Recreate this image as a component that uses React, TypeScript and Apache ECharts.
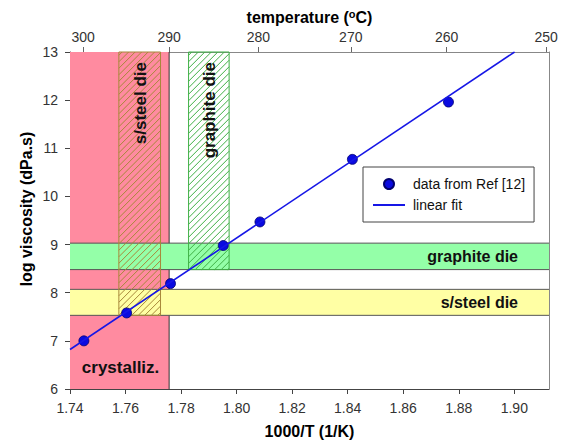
import React, { useEffect, useRef } from "react";
import * as echarts from "echarts";

const FONT = "'Liberation Sans', Arial, sans-serif";

// axis ticks
const xTicks = [1.74, 1.76, 1.78, 1.8, 1.82, 1.84, 1.86, 1.88, 1.9];
const tempTicks = [300, 290, 280, 270, 260, 250];

// measured data (1000/T, log viscosity)
const dataX = [1.745, 1.7604, 1.7762, 1.7952, 1.8084, 1.8417, 1.8763];
const dataY = [7.0, 7.58, 8.19, 8.98, 9.47, 10.77, 11.96];

// linear fit endpoints
const fitX = [1.74, 1.9001];
const fitY = [6.82, 13.0];

// crystallization region
const crystX = [1.74, 1.7757];
const crystY = [6, 13];

// horizontal processing windows
const hBandNames = ["graphite die", "s/steel die"];
const hBandLow = [8.48, 7.53];
const hBandHigh = [9.03, 8.07];
const hBandColors = ["#94ffa8", "#ffffa4"];

// vertical (hatched) processing windows
const vBandNames = ["s/steel die", "graphite die"];
const vBandLeft = [1.7576, 1.7827];
const vBandRight = [1.7726, 1.7973];
const vBandLow = [7.53, 8.48];
const vBandHigh = [13, 13];
const vBandColors = ["#a8883a", "#3fb046"];

const X_MIN = 1.74;
const X_MAX = 1.9125;

export default function App() {
  const ref = useRef<HTMLDivElement>(null);

  useEffect(() => {
    if (!ref.current) return;
    const chart = echarts.init(ref.current, null, { renderer: "svg" });
    const tempPos = tempTicks.map((t) => 1000 / (t + 273.15));

    const option: any = {
      animation: false,
      textStyle: { fontFamily: FONT },
      grid: { left: 70, right: 16, top: 52, bottom: 50, containLabel: false },
      graphic: [
        {
          type: "text",
          x: 26,
          y: 209,
          rotation: Math.PI / 2,
          style: {
            text: "log viscosity (dPa.s)",
            fontSize: 16,
            fontWeight: "bold",
            fontFamily: FONT,
            fill: "#000",
            align: "center",
            verticalAlign: "middle",
          },
        },
      ],
      legend: {
        orient: "vertical",
        left: 363,
        top: 167,
        data: [
          { name: "data from Ref [12]" },
          { name: "linear fit", itemStyle: { opacity: 0 } },
        ],
        backgroundColor: "#fff",
        borderColor: "#444",
        borderWidth: 1,
        borderRadius: 0,
        padding: [10, 9, 10, 9],
        itemWidth: 32,
        itemHeight: 10,
        itemGap: 7,
        textStyle: { fontSize: 14, color: "#111", fontFamily: FONT, padding: [0, 0, 0, 3] },
      },
      xAxis: [
        {
          type: "value",
          position: "bottom",
          min: X_MIN,
          max: X_MAX,
          axisLine: { show: true, lineStyle: { color: "#444" } },
          axisTick: { show: true, inside: false, length: 5, customValues: xTicks, lineStyle: { color: "#444" } },
          axisLabel: {
            customValues: xTicks,
            formatter: (v: number) => v.toFixed(2),
            fontSize: 14,
            color: "#333",
            margin: 12,
            fontFamily: FONT,
          },
          splitLine: { show: false },
          name: "1000/T (1/K)",
          nameLocation: "middle",
          nameGap: 34,
          nameTextStyle: { fontSize: 16, fontWeight: "bold", color: "#000", fontFamily: FONT },
        },
        {
          type: "value",
          position: "top",
          min: X_MIN,
          max: X_MAX,
          axisLine: { show: true, lineStyle: { color: "#888" } },
          axisTick: { show: true, inside: false, length: 5, customValues: tempPos, lineStyle: { color: "#666" } },
          axisLabel: {
            customValues: tempPos,
            formatter: (v: number) => String(Math.round(1000 / v - 273.15)),
            fontSize: 14,
            color: "#333",
            margin: 8,
            fontFamily: FONT,
          },
          splitLine: { show: false },
          name: "{t|temperature (}{s|o}{t|C)}",
          nameLocation: "middle",
          nameGap: 26,
          nameTextStyle: {
            rich: {
              t: { fontSize: 16, fontWeight: "bold", color: "#000", fontFamily: FONT, lineHeight: 18 },
              s: { fontSize: 11, fontWeight: "bold", color: "#000", fontFamily: FONT, verticalAlign: "top", lineHeight: 11 },
            },
          },
        },
      ],
      yAxis: [
        {
          type: "value",
          min: 6,
          max: 13,
          interval: 1,
          axisLine: { show: true, lineStyle: { color: "#444" } },
          axisTick: { show: true, inside: false, length: 5, lineStyle: { color: "#444" } },
          axisLabel: { fontSize: 14, color: "#333", margin: 12, fontFamily: FONT },
          splitLine: { show: false },
        },
        {
          type: "value",
          position: "right",
          min: 6,
          max: 13,
          axisLine: { show: true, lineStyle: { color: "#888" } },
          axisTick: { show: false },
          axisLabel: { show: false },
          splitLine: { show: false },
        },
      ],
      series: [
        {
          type: "custom",
          name: "crystallization",
          silent: true,
          data: [[crystX[0], crystX[1], crystY[0], crystY[1]]],
          renderItem: (params: any, api: any) => {
            const tl = api.coord([api.value(0), api.value(3)]);
            const br = api.coord([api.value(1), api.value(2)]);
            return {
              type: "group",
              children: [
                {
                  type: "rect",
                  shape: { x: tl[0], y: tl[1], width: br[0] - tl[0], height: br[1] - tl[1] },
                  style: { fill: "#ff8ba0", stroke: "none" },
                },
                {
                  type: "line",
                  shape: { x1: br[0], y1: tl[1], x2: br[0], y2: br[1] },
                  style: { stroke: "#333", lineWidth: 1 },
                },
                {
                  type: "text",
                  x: (tl[0] + br[0]) / 2 + 1,
                  y: br[1] - 22,
                  style: {
                    text: "crystalliz.",
                    fontSize: 17,
                    fontWeight: "bold",
                    fontFamily: FONT,
                    fill: "#111",
                    align: "center",
                    verticalAlign: "middle",
                  },
                },
              ],
            };
          },
        },
        {
          type: "custom",
          name: "hbands",
          silent: true,
          data: hBandLow.map((lo, i) => [X_MIN, X_MAX, lo, hBandHigh[i]]),
          renderItem: (params: any, api: any) => {
            const i = params.dataIndex;
            const tl = api.coord([api.value(0), api.value(3)]);
            const br = api.coord([api.value(1), api.value(2)]);
            return {
              type: "group",
              children: [
                {
                  type: "rect",
                  shape: { x: tl[0], y: tl[1], width: br[0] - tl[0], height: br[1] - tl[1] },
                  style: { fill: hBandColors[i], stroke: "none" },
                },
                {
                  type: "line",
                  shape: { x1: tl[0], y1: tl[1], x2: br[0], y2: tl[1] },
                  style: { stroke: "#555", lineWidth: 1 },
                },
                {
                  type: "line",
                  shape: { x1: tl[0], y1: br[1], x2: br[0], y2: br[1] },
                  style: { stroke: "#555", lineWidth: 1 },
                },
                {
                  type: "text",
                  x: br[0] - 31,
                  y: (tl[1] + br[1]) / 2,
                  style: {
                    text: hBandNames[i],
                    fontSize: 16,
                    fontWeight: "bold",
                    fontFamily: FONT,
                    fill: "#111",
                    align: "right",
                    verticalAlign: "middle",
                  },
                },
              ],
            };
          },
        },
        {
          type: "custom",
          name: "vbands",
          silent: true,
          data: vBandLeft.map((l, i) => [l, vBandRight[i], vBandLow[i], vBandHigh[i]]),
          renderItem: (params: any, api: any) => {
            const i = params.dataIndex;
            const col = vBandColors[i];
            const tl = api.coord([api.value(0), api.value(3)]);
            const br = api.coord([api.value(1), api.value(2)]);
            const x0 = tl[0], y0 = tl[1], x1 = br[0], y1 = br[1];
            const children: any[] = [];
            const step = 6.5;
            for (let c = x0 + y0 + step / 2; c < x1 + y1; c += step) {
              const xa = Math.max(x0, c - y1);
              const xb = Math.min(x1, c - y0);
              if (xb <= xa) continue;
              children.push({
                type: "line",
                shape: { x1: xa, y1: c - xa, x2: xb, y2: c - xb },
                style: { stroke: col, lineWidth: 1 },
              });
            }
            children.push({
              type: "rect",
              shape: { x: x0, y: y0, width: x1 - x0, height: y1 - y0 },
              style: { fill: "none", stroke: col, lineWidth: 1 },
            });
            children.push({
              type: "text",
              x: (x0 + x1) / 2 + 1,
              y: y0 + 10,
              rotation: Math.PI / 2,
              style: {
                text: vBandNames[i],
                fontSize: 17,
                fontWeight: "bold",
                fontFamily: FONT,
                fill: "#111",
                align: "right",
                verticalAlign: "middle",
              },
            });
            return { type: "group", children };
          },
        },
        {
          type: "line",
          name: "linear fit",
          data: fitX.map((x, i) => [x, fitY[i]]),
          symbol: "none",
          lineStyle: { color: "#1616e6", width: 1.6 },
          itemStyle: { color: "#1616e6" },
        },
        {
          type: "scatter",
          name: "data from Ref [12]",
          data: dataX.map((x, i) => [x, dataY[i]]),
          symbol: "circle",
          symbolSize: 10,
          itemStyle: { color: "#0a0ae0", borderColor: "#000070", borderWidth: 0.8, opacity: 1 },
        },
      ],
    };

    chart.setOption(option);
    return () => chart.dispose();
  }, []);

  return (
    <div
      ref={ref}
      style={{ position: "absolute", left: 0, top: 0, width: 565, height: 444, background: "#fff" }}
    />
  );
}
